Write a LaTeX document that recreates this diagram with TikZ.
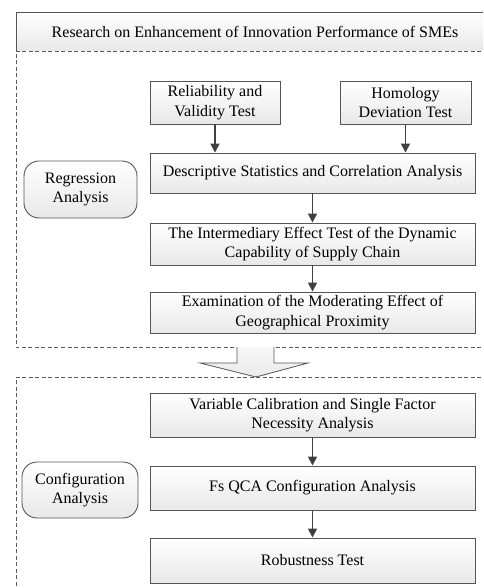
\documentclass[tikz,border=0pt]{standalone}
\usepackage{fontspec}
\setmainfont{Liberation Serif}
\usetikzlibrary{arrows.meta,shadings}
\definecolor{edge}{HTML}{555555}
\definecolor{arr}{HTML}{404040}
\definecolor{dashc}{HTML}{5A5A5A}
\tikzset{
  box/.style={draw=edge, line width=0.9pt, top color=white, bottom color=black!9,
    minimum width=325pt, align=center, inner sep=2pt, font=\fontsize{16}{19.5}\selectfont},
  smallbox/.style={box, minimum width=130pt, minimum height=43pt},
  roundbox/.style={box, rounded corners=15pt},
  flow/.style={draw=arr, line width=1.6pt, -{Triangle[width=9pt,length=9pt]}},
  region/.style={draw=dashc, line width=0.8pt, dash pattern=on 4pt off 2.5pt},
}
\begin{document}
\begin{tikzpicture}[x=1pt,y=1pt]
\useasboundingbox (0,0) rectangle (483,-588);
\clip (0,0) rectangle (483,-588);
% regions
\draw[region] (494,-51) -- (16,-51) -- (16,-347) -- (494,-347);
\draw[region] (494,-377) -- (16,-377) -- (16,-600);
% title
\draw[edge, line width=0.9pt, top color=white, bottom color=black!9] (16,-51) -- (16,-12) -- (494,-12) -- (494,-51);
\node[font=\fontsize{16}{19.5}\selectfont] (title) at (255,-31.5) {Research on Enhancement of Innovation Performance of SMEs};
% hollow arrow
\draw[draw=edge, line width=0.8pt, top color=black!3, bottom color=black!8]
  (237,-347) -- (237,-363) -- (200,-363) -- (256,-377) -- (308,-363) -- (274,-363) -- (274,-347);
% nodes
\node[smallbox] (rel) at (215,-102.5) {Reliability and\\Validity Test};
\node[smallbox, minimum width=131pt] (hom) at (405.5,-102.5) {Homology\\Deviation Test};
\node[box, minimum height=40pt] (desc) at (312.5,-173) {Descriptive Statistics and Correlation Analysis};
\node[box, minimum height=42pt] (inter) at (312.5,-244) {The Intermediary Effect Test of the Dynamic\\Capability of Supply Chain};
\node[box, minimum height=41pt] (exam) at (312.5,-312.5) {Examination of the Moderating Effect of\\Geographical Proximity};
\node[roundbox, minimum width=113pt, minimum height=57pt] (reg) at (80.5,-189.5) {Regression\\Analysis};
\node[box, minimum height=44pt] (var) at (312.5,-415) {Variable Calibration and Single Factor\\Necessity Analysis};
\node[box, minimum height=44pt] (fs) at (312.5,-488) {Fs QCA Configuration Analysis};
\node[box, minimum height=45pt] (rob) at (312.5,-560.5) {Robustness Test};
\node[roundbox, minimum width=116pt, minimum height=56pt] (conf) at (80,-490) {Configuration\\Analysis};
% arrows
\draw[flow] (rel.south) -- (rel.south |- desc.north);
\draw[flow] (hom.south) -- (hom.south |- desc.north);
\draw[flow] (desc) -- (inter);
\draw[flow] (inter) -- (exam);
\draw[flow] (var) -- (fs);
\draw[flow] (fs) -- (rob);
\end{tikzpicture}
\end{document}
